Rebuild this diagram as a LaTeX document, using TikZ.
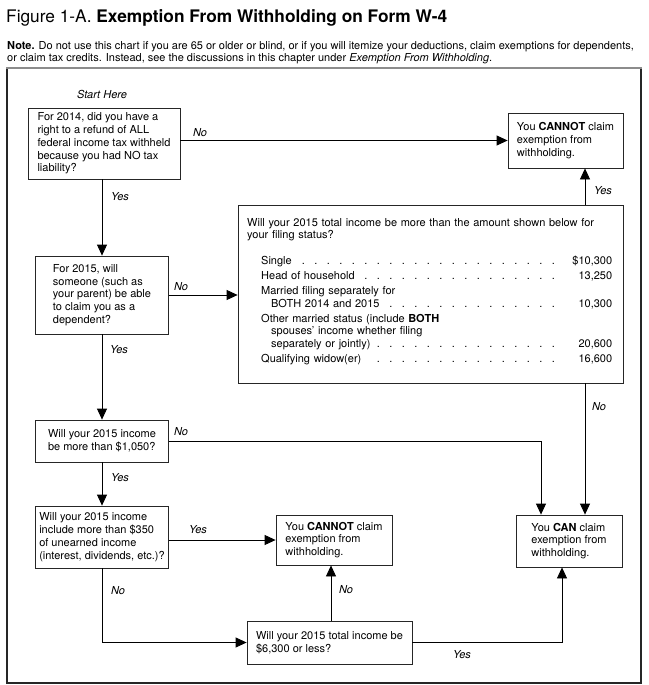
\documentclass[tikz,border=0pt]{standalone}
\usepackage{fontspec}
\setmainfont{TeX Gyre Heros}
\usetikzlibrary{arrows.meta}
\newcommand\trow[3]{\hbox to 365pt{\hspace*{#1}#2\leaders\hbox to 12.5pt{\hss.\hss}\hfill\hbox to 52pt{\hfill #3}}}
\begin{document}
\begin{tikzpicture}[x=1pt,y=-1pt,
  box/.style={draw=black!85, line width=0.8pt, align=left, inner sep=0pt, font=\fontsize{11}{12.8}\selectfont},
  arr/.style={draw=black, line width=0.8pt, -{Triangle[length=11pt,width=10pt]}},
  lab/.style={font=\fontsize{11}{13}\selectfont\itshape, inner sep=0pt},
]
\useasboundingbox (0,0) rectangle (648,685);
% title and note
\node[anchor=base west, inner sep=0pt, font=\fontsize{17.3}{20}\selectfont] (title) at (6,23) {Figure 1-A. \textbf{Exemption From Withholding on Form W-4}};
\node[anchor=north west, inner sep=0pt, align=left, font=\fontsize{11}{12}\selectfont] (note) at (7,41.5) {\textbf{Note.} Do not use this chart if you are 65 or older or blind, or if you will itemize your deductions, claim exemptions for dependents,\\or claim tax credits. Instead, see the discussions in this chapter under \textit{Exemption From Withholding}.};
% frame
\draw[line width=1.2pt, black!85] (7,68) -- (7,683) -- (641,683) -- (641,68);
\draw[line width=2pt, black!45] (6,68) -- (642,68);
% nodes
\node[lab] (start) at (102,94) {Start Here};
\node[box, minimum width=152pt, minimum height=71pt] (q1) at (104,143.5) {For 2014, did you have a\\right to a refund of ALL\\federal income tax withheld\\because you had NO tax\\liability?};
\node[box, minimum width=115pt, minimum height=55pt] (no1) at (565.5,140.5) {You \textbf{CANNOT} claim\\exemption from\\withholding.};
\node[draw=black!85, line width=0.8pt, minimum width=385pt, minimum height=178pt, inner sep=0pt] (q2) at (430.5,294) {};
\node[anchor=north west, inner sep=0pt, text width=365pt, align=left, font=\fontsize{11}{12.5}\selectfont] (q2t) at (247,218) {Will your 2015 total income be more than the amount shown below for\\your filing status?\par
\vspace{13.5pt}
\trow{14pt}{Single}{\$10,300}
\vspace{2.5pt}
\trow{14pt}{Head of household}{13,250}
\vspace{2.5pt}
\hbox{\hspace*{14pt}Married filing separately for}
\trow{24pt}{BOTH 2014 and 2015}{10,300}
\vspace{2.5pt}
\hbox{\hspace*{14pt}Other married status (include \textbf{BOTH}}
\hbox{\hspace*{24pt}spouses' income whether filing}
\trow{24pt}{separately or jointly)}{20,600}
\vspace{2.5pt}
\trow{14pt}{Qualifying widow(er)}{16,600}};
\node[box, minimum width=133pt, minimum height=78pt] (q3) at (102,295) {For 2015, will\\someone (such as\\your parent) be able\\to claim you as a\\dependent?};
\node[box, minimum width=133pt, minimum height=42pt] (q4) at (102,441) {Will your 2015 income\\be more than \$1,050?};
\node[box, minimum width=133pt, minimum height=62pt] (q5) at (102,537) {Will your 2015 income\\include more than \$350\\of unearned income\\(interest, dividends, etc.)?};
\node[box, minimum width=116pt, minimum height=50pt] (no2) at (334,540) {You \textbf{CANNOT} claim\\exemption from\\withholding.};
\node[box, minimum width=106pt, minimum height=52pt] (yes1) at (569,541) {You \textbf{CAN} claim\\exemption from\\withholding.};
\node[box, minimum width=165pt, minimum height=43pt] (q6) at (329.5,642.5) {Will your 2015 total income be\\\$6,300 or less?};
% helper columns
\coordinate (xr) at (585,0);
\coordinate (xc) at (541,0);
\coordinate (xy) at (562,0);
\coordinate (xm) at (331,0);
% connectors
\draw[arr] (q1.east |- no1.west) -- (no1.west) node[lab] at (200,133) {No};
\draw[arr] (q2.north -| xr) -- (no1.south -| xr) node[lab] at (603,191) {Yes};
\draw[arr] (q1.south -| q3.north) -- (q3.north) node[lab] at (120,197) {Yes};
\draw[arr] (q3.east) -- (q3.east -| q2.west) node[lab] at (181,287) {No};
\draw[arr] (q3.south) -- (q4.north) node[lab] at (119,350) {Yes};
\draw[arr] (q2.south -| xr) -- (yes1.north -| xr) node[lab] at (599,407) {No};
\draw[arr] (q4.east) -| (yes1.north -| xc) node[lab] at (181,432) {No};
\draw[arr] (q4.south) -- (q5.north) node[lab] at (120,478) {Yes};
\draw[arr] (q5.east |- no2.west) -- (no2.west) node[lab] at (198,530) {Yes};
\draw[arr] (q5.south) |- (q6.west) node[lab] at (118,591) {No};
\draw[arr] (q6.north -| xm) -- (no2.south -| xm) node[lab] at (346,590) {No};
\draw[arr] (q6.east) -| (yes1.south -| xy) node[lab] at (462,655) {Yes};
\end{tikzpicture}
\end{document}
